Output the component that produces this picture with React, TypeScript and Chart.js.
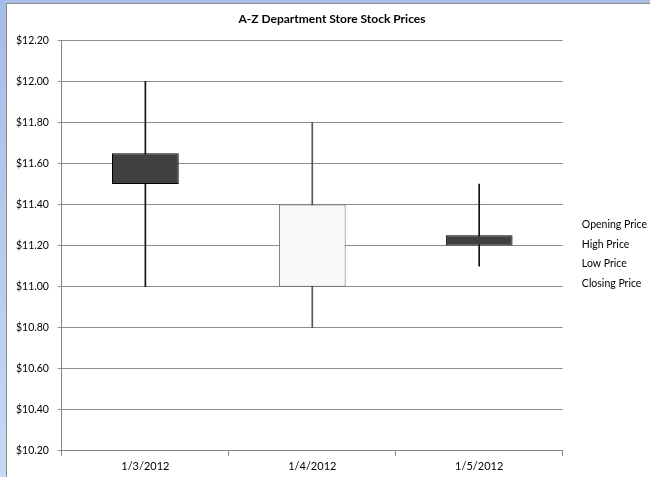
import React, { useEffect, useRef } from "react";
import { Chart, registerables } from "chart.js";

Chart.register(...registerables);

const dates = ["1/3/2012", "1/4/2012", "1/5/2012"];
const openPrice = [11.65, 11.0, 11.25];
const highPrice = [12.0, 11.8, 11.5];
const lowPrice = [11.0, 10.8, 11.1];
const closePrice = [11.5, 11.4, 11.2];
const seriesNames = ["Opening Price", "High Price", "Low Price", "Closing Price"];
const yTickMin = 10.2;
const yTickMax = 12.2;
const yTickStep = 0.2;

const FONT = "Lato, 'Open Sans', sans-serif";

export default function App() {
  const ref = useRef<HTMLCanvasElement | null>(null);
  useEffect(() => {
    if (!ref.current) return;
    const down = openPrice.map((o, i) => o > closePrice[i]);
    const chart = new Chart(ref.current, {
      type: "bar",
      data: {
        labels: dates,
        datasets: [
          {
            label: "Box",
            data: dates.map((_, i) => [openPrice[i], closePrice[i]]) as any,
            backgroundColor: down.map((d) => (d ? "#404040" : "#f8f8f8")),
            borderColor: down.map((d) => (d ? "#000000" : "#666666")),
            borderWidth: 1,
            borderSkipped: false,
            barPercentage: 0.4,
            categoryPercentage: 1,
            grouped: false,
            order: 1,
          } as any,
          {
            label: "Wick",
            data: dates.map((_, i) => [lowPrice[i], highPrice[i]]) as any,
            backgroundColor: down.map((d) => (d ? "#111111" : "#555555")),
            borderWidth: 0,
            barThickness: 1,
            grouped: false,
            order: 2,
          } as any,
        ],
      },
      options: {
        animation: false,
        responsive: true,
        maintainAspectRatio: false,
        layout: { padding: { left: 0, right: -7, top: 6, bottom: 0 } },
        plugins: {
          tooltip: { enabled: false },
          title: {
            display: true,
            text: "A-Z Department Store Stock Prices",
            color: "#000",
            font: { family: FONT, size: 12, weight: "bold" },
            padding: { top: 2, bottom: 14 },
          },
          legend: {
            display: true,
            position: "right",
            title: {
              display: true,
              text: " ",
              color: "#000",
              font: { family: FONT, size: 11 },
              padding: { top: 0, bottom: 8 },
            },
            labels: {
              boxWidth: 5,
              boxHeight: 1,
              padding: 9,
              color: "#000",
              font: { family: FONT, size: 10.5 },
              generateLabels: () =>
                seriesNames.map((text, i) => ({
                  text,
                  fillStyle: "transparent",
                  strokeStyle: "transparent",
                  fontColor: "#000000",
                  lineWidth: 0,
                  hidden: false,
                  datasetIndex: i,
                })) as any,
            },
            onClick: () => {},
          },
        },
        scales: {
          x: {
            grid: {
              display: true,
              drawOnChartArea: false,
              drawTicks: true,
              tickLength: 5,
              color: "#888888",
              offset: true,
            },
            border: { color: "#888888" },
            ticks: {
              color: "#000",
              font: { family: FONT, size: 11 },
              padding: 4,
              maxRotation: 0,
            },
          },
          y: {
            min: yTickMin,
            max: yTickMax,
            grid: { color: "#8c8c8c", tickLength: 4 },
            border: { color: "#888888" },
            ticks: {
              stepSize: yTickStep,
              color: "#000",
              font: { family: FONT, size: 10.5 },
              padding: 9,
              callback: (v: any) => "$" + Number(v).toFixed(2),
            },
          },
        },
      },
    });
    return () => chart.destroy();
  }, []);

  return (
    <div
      style={{
        position: "fixed",
        left: 0,
        top: 0,
        width: 650,
        height: 477,
        background: "#ffffff",
        overflow: "hidden",
      }}
    >
      <div
        style={{
          position: "absolute",
          left: 0,
          top: 0,
          width: 650,
          height: 3,
          background: "#a9c1ea",
        }}
      />
      <div
        style={{
          position: "absolute",
          left: 0,
          top: 0,
          width: 6,
          height: 477,
          background: "linear-gradient(#a4bde8, #c9d8f2)",
        }}
      />
      <div
        style={{
          position: "absolute",
          left: 6,
          top: 3,
          width: 1,
          height: 474,
          background: "#8a8a8a",
        }}
      />
      <div
        style={{
          position: "absolute",
          left: 6,
          top: 3,
          width: 644,
          height: 1,
          background: "#8a8a8a",
        }}
      />
      <div style={{ position: "absolute", left: 7, top: 4, width: 643, height: 473 }}>
        <canvas ref={ref} />
      </div>
    </div>
  );
}
